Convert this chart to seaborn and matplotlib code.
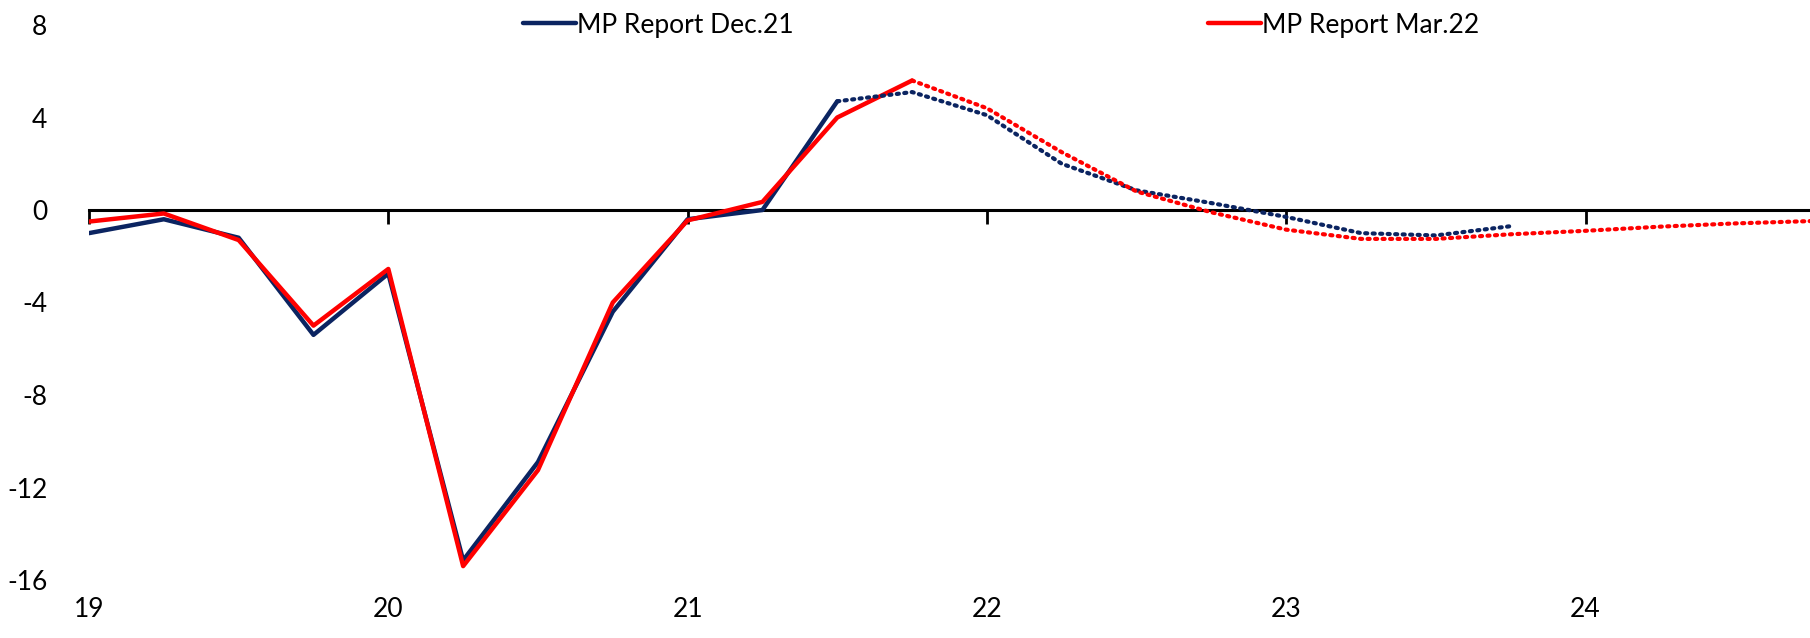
import numpy as np
import pandas as pd
import matplotlib
matplotlib.use("Agg")
import matplotlib.pyplot as plt
import seaborn as sns

# quarterly time axis (19 = 2019Q1)
dec_actual_x = [19.0, 19.25, 19.5, 19.75, 20.0, 20.25, 20.5, 20.75, 21.0, 21.25, 21.5]
dec_actual_y = [-1.0, -0.4, -1.2, -5.4, -2.75, -15.15, -10.9, -4.4, -0.4, 0.0, 4.7]
dec_proj_x = [21.5, 21.75, 22.0, 22.25, 22.5, 22.75, 23.0, 23.25, 23.5, 23.75]
dec_proj_y = [4.7, 5.1, 4.1, 2.0, 0.85, 0.3, -0.3, -1.0, -1.1, -0.7]

mar_actual_x = [19.0, 19.25, 19.5, 19.75, 20.0, 20.25, 20.5, 20.75, 21.0, 21.25, 21.5, 21.75]
mar_actual_y = [-0.5, -0.15, -1.3, -5.0, -2.55, -15.4, -11.25, -4.0, -0.45, 0.35, 4.0, 5.6]
mar_proj_x = [21.75, 22.0, 22.25, 22.5, 22.75, 23.0, 23.25, 23.5, 23.75, 24.0, 24.25, 24.5, 24.75]
mar_proj_y = [5.6, 4.4, 2.5, 0.8, -0.1, -0.85, -1.25, -1.25, -1.05, -0.9, -0.72, -0.58, -0.48]

x_ticks = [19, 20, 21, 22, 23, 24]
x_labels = ["19", "20", "21", "22", "23", "24"]
y_ticks = [8, 4, 0, -4, -8, -12, -16]

navy = "#0b2461"
red = "#ff0000"

sns.set_style("white")
plt.rcParams["font.family"] = ["Lato", "DejaVu Sans"]
plt.rcParams["text.color"] = "black"

fig = plt.figure(figsize=(18.1, 6.38), dpi=100)
ax = fig.add_axes([89 / 1810, 58 / 638, 1 - 89 / 1810, 555 / 638])

sns.lineplot(x=dec_actual_x, y=dec_actual_y, color=navy, linewidth=3.2, ax=ax,
             label="MP Report Dec.21")
sns.lineplot(x=mar_actual_x, y=mar_actual_y, color=red, linewidth=3.2, ax=ax,
             label="MP Report Mar.22")
sns.lineplot(x=dec_proj_x, y=dec_proj_y, color=navy, linewidth=3.0, ax=ax,
             linestyle=(0, (0.5, 1.3)), dash_capstyle="round")
sns.lineplot(x=mar_proj_x, y=mar_proj_y, color=red, linewidth=3.0, ax=ax,
             linestyle=(0, (0.5, 1.3)), dash_capstyle="round")

ax.set_xlim(19, 24.75)
ax.set_ylim(-16, 8)
ax.set_yticks(y_ticks)
ax.set_yticklabels([str(v) for v in y_ticks])
ax.tick_params(axis="y", left=False, length=0, labelsize=19, labelcolor="black", pad=30)

# zero axis line with downward tick marks
for k in ["top", "left", "right"]:
    ax.spines[k].set_visible(False)
ax.spines["bottom"].set_position(("data", 0))
ax.spines["bottom"].set_linewidth(2.2)
ax.spines["bottom"].set_color("black")
ax.spines["bottom"].set_zorder(1)
ax.set_xticks(x_ticks)
ax.tick_params(axis="x", bottom=True, direction="out", length=10, width=2,
               color="black", labelbottom=False)
ax.set_xlabel("")
ax.set_ylabel("")

# year labels along the bottom of the plot
sec = ax.secondary_xaxis("bottom")
sec.set_xticks(x_ticks)
sec.set_xticklabels(x_labels)
sec.tick_params(axis="x", length=0, labelsize=19, labelcolor="black", pad=12)
sec.spines["bottom"].set_visible(False)

handles, labels = ax.get_legend_handles_labels()
leg = ax.legend(handles[:2], labels[:2], loc="center", ncol=2, frameon=False,
                bbox_to_anchor=(1001 / 1810, 1 - 25 / 638), bbox_transform=fig.transFigure,
                fontsize=19, handlelength=2.0, handletextpad=0.05, columnspacing=15.7)
for t in leg.get_texts():
    t.set_color("black")

fig.savefig("out.png", dpi=100)
